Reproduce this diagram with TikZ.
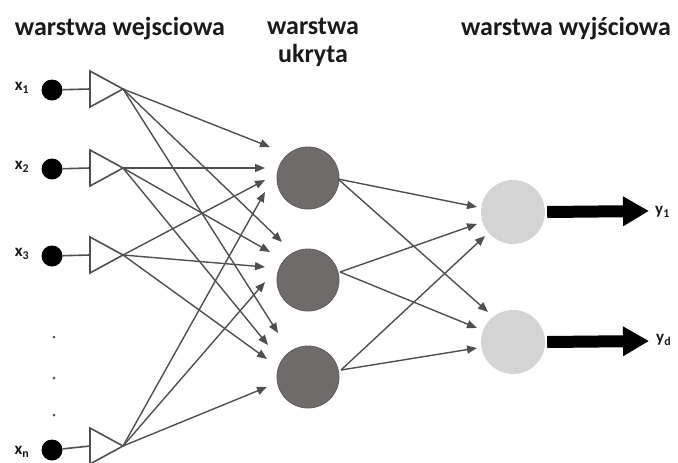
\documentclass[tikz,border=0pt]{standalone}
\usepackage{fontspec}
\setmainfont{Carlito}
\usetikzlibrary{arrows.meta,calc}
\definecolor{hid}{HTML}{6F6B6B}
\definecolor{outc}{HTML}{D4D4D4}
\definecolor{ln}{HTML}{4F4F4F}
\definecolor{txt}{HTML}{1A1A1A}
\begin{document}
\begin{tikzpicture}[x=1pt,y=-1pt,
  inp/.style={circle,fill=black,minimum size=21pt,inner sep=0pt},
  hidn/.style={circle,fill=hid,draw=hid!85!black,line width=0.8pt,minimum size=62pt,inner sep=0pt},
  outn/.style={circle,fill=outc,minimum size=64pt,inner sep=0pt},
  conn/.style={draw=ln,line width=1.4pt,-{Triangle[length=10pt,width=8pt]}},
  plain/.style={draw=ln,line width=1.4pt},
  amp/.style={draw=ln,line width=1.6pt,fill=white,line join=miter},
  title/.style={font=\bfseries\fontsize{26}{28}\selectfont,text=txt,inner sep=0pt},
  lab/.style={font=\bfseries\fontsize{17}{19}\selectfont,text=txt,inner sep=0pt},
  big/.style={line width=12pt,-{Triangle[length=26pt,width=28pt]}}]
\useasboundingbox (0,0) rectangle (678,463);

% titles
\node[title] (tin) at (120,29) {warstwa wejsciowa};
\node[title,align=center] (thid) at (313,42) {warstwa\\ukryta};
\node[title] (tout) at (566,29) {warstwa wyjściowa};

% input neurons
\node[inp] (x1) at (52,90) {};
\node[inp] (x2) at (52,169) {};
\node[inp] (x3) at (52,256) {};
\node[inp] (xn) at (52,450) {};
\node[lab] (lx1) at (22,88) {x\textsubscript{1}};
\node[lab] (lx2) at (22,167) {x\textsubscript{2}};
\node[lab] (lx3) at (22,254) {x\textsubscript{3}};
\node[lab] (lxn) at (22,452) {x\textsubscript{n}};
\fill[ln] (54,337) circle (1.5pt) (54,378) circle (1.5pt) (54,415) circle (1.5pt);

% amplifier triangles
\coordinate (b1) at (90,89); \coordinate (t1) at (123,89);
\coordinate (b2) at (90,168); \coordinate (t2) at (123,168);
\coordinate (b3) at (90,255); \coordinate (t3) at (123,255);
\coordinate (bn) at (90,446); \coordinate (tn) at (123,446);
\foreach \r in {1,2,3,n}{
  \draw[plain,line width=1.6pt] (x\r) -- (b\r);
  \draw[amp] ($(b\r)+(0,-18)$) -- (t\r) -- ($(b\r)+(0,18)$) -- cycle;
}

% hidden neurons
\node[hidn] (h1) at (308,178) {};
\node[hidn] (h2) at (308,280) {};
\node[hidn] (h3) at (308,377) {};

% output neurons
\node[outn] (o1) at (513,212) {};
\node[outn] (o2) at (513,342) {};

% input -> hidden
\draw[conn] (t1) -- ($(h1)+(-38,-31)$);
\draw[conn] (t2) -- ($(h1)+(-43,-10)$);
\draw[conn] (t3) -- ($(h1)+(-43,2)$);
\draw[conn] (tn) -- ($(h1)+(-43,14)$);
\draw[conn] (t1) -- ($(h2)+(-26,-38)$);
\draw[conn] (t2) -- ($(h2)+(-38,-28)$);
\draw[conn] (t3) -- ($(h2)+(-43,-13)$);
\draw[conn] (tn) -- ($(h2)+(-43,2)$);
\draw[conn] (t1) -- ($(h3)+(-30,-44)$);
\draw[conn] (t2) -- ($(h3)+(-40,-32)$);
\draw[conn] (t3) -- ($(h3)+(-41,-18)$);
\draw[conn] (tn) -- ($(h3)+(-41,10)$);

% hidden -> output
\draw[conn] ($(h1)+(30,1)$) -- ($(o1)+(-36,-5)$);
\draw[conn] ($(h1)+(30,1)$) -- ($(o2)+(-25,-30)$);
\draw[conn] ($(h2)+(32,-8)$) -- ($(o1)+(-36,12)$);
\draw[conn] ($(h2)+(32,-8)$) -- ($(o2)+(-36,-14)$);
\draw[conn] ($(h3)+(33,-7)$) -- ($(o1)+(-28,24)$);
\draw[conn] ($(h3)+(33,-7)$) -- ($(o2)+(-36,6)$);

% outputs
\coordinate (e1) at (649,211);
\coordinate (e2) at (649,341);
\draw[big] ($(o1.east)+(2,0)$) -- (e1);
\draw[big] ($(o2.east)+(2,0)$) -- (e2);
\node[lab,anchor=west] (ly1) at (655,212) {y\textsubscript{1}};
\node[lab,anchor=west] (lyd) at (656,340) {y\textsubscript{d}};
\end{tikzpicture}
\end{document}
